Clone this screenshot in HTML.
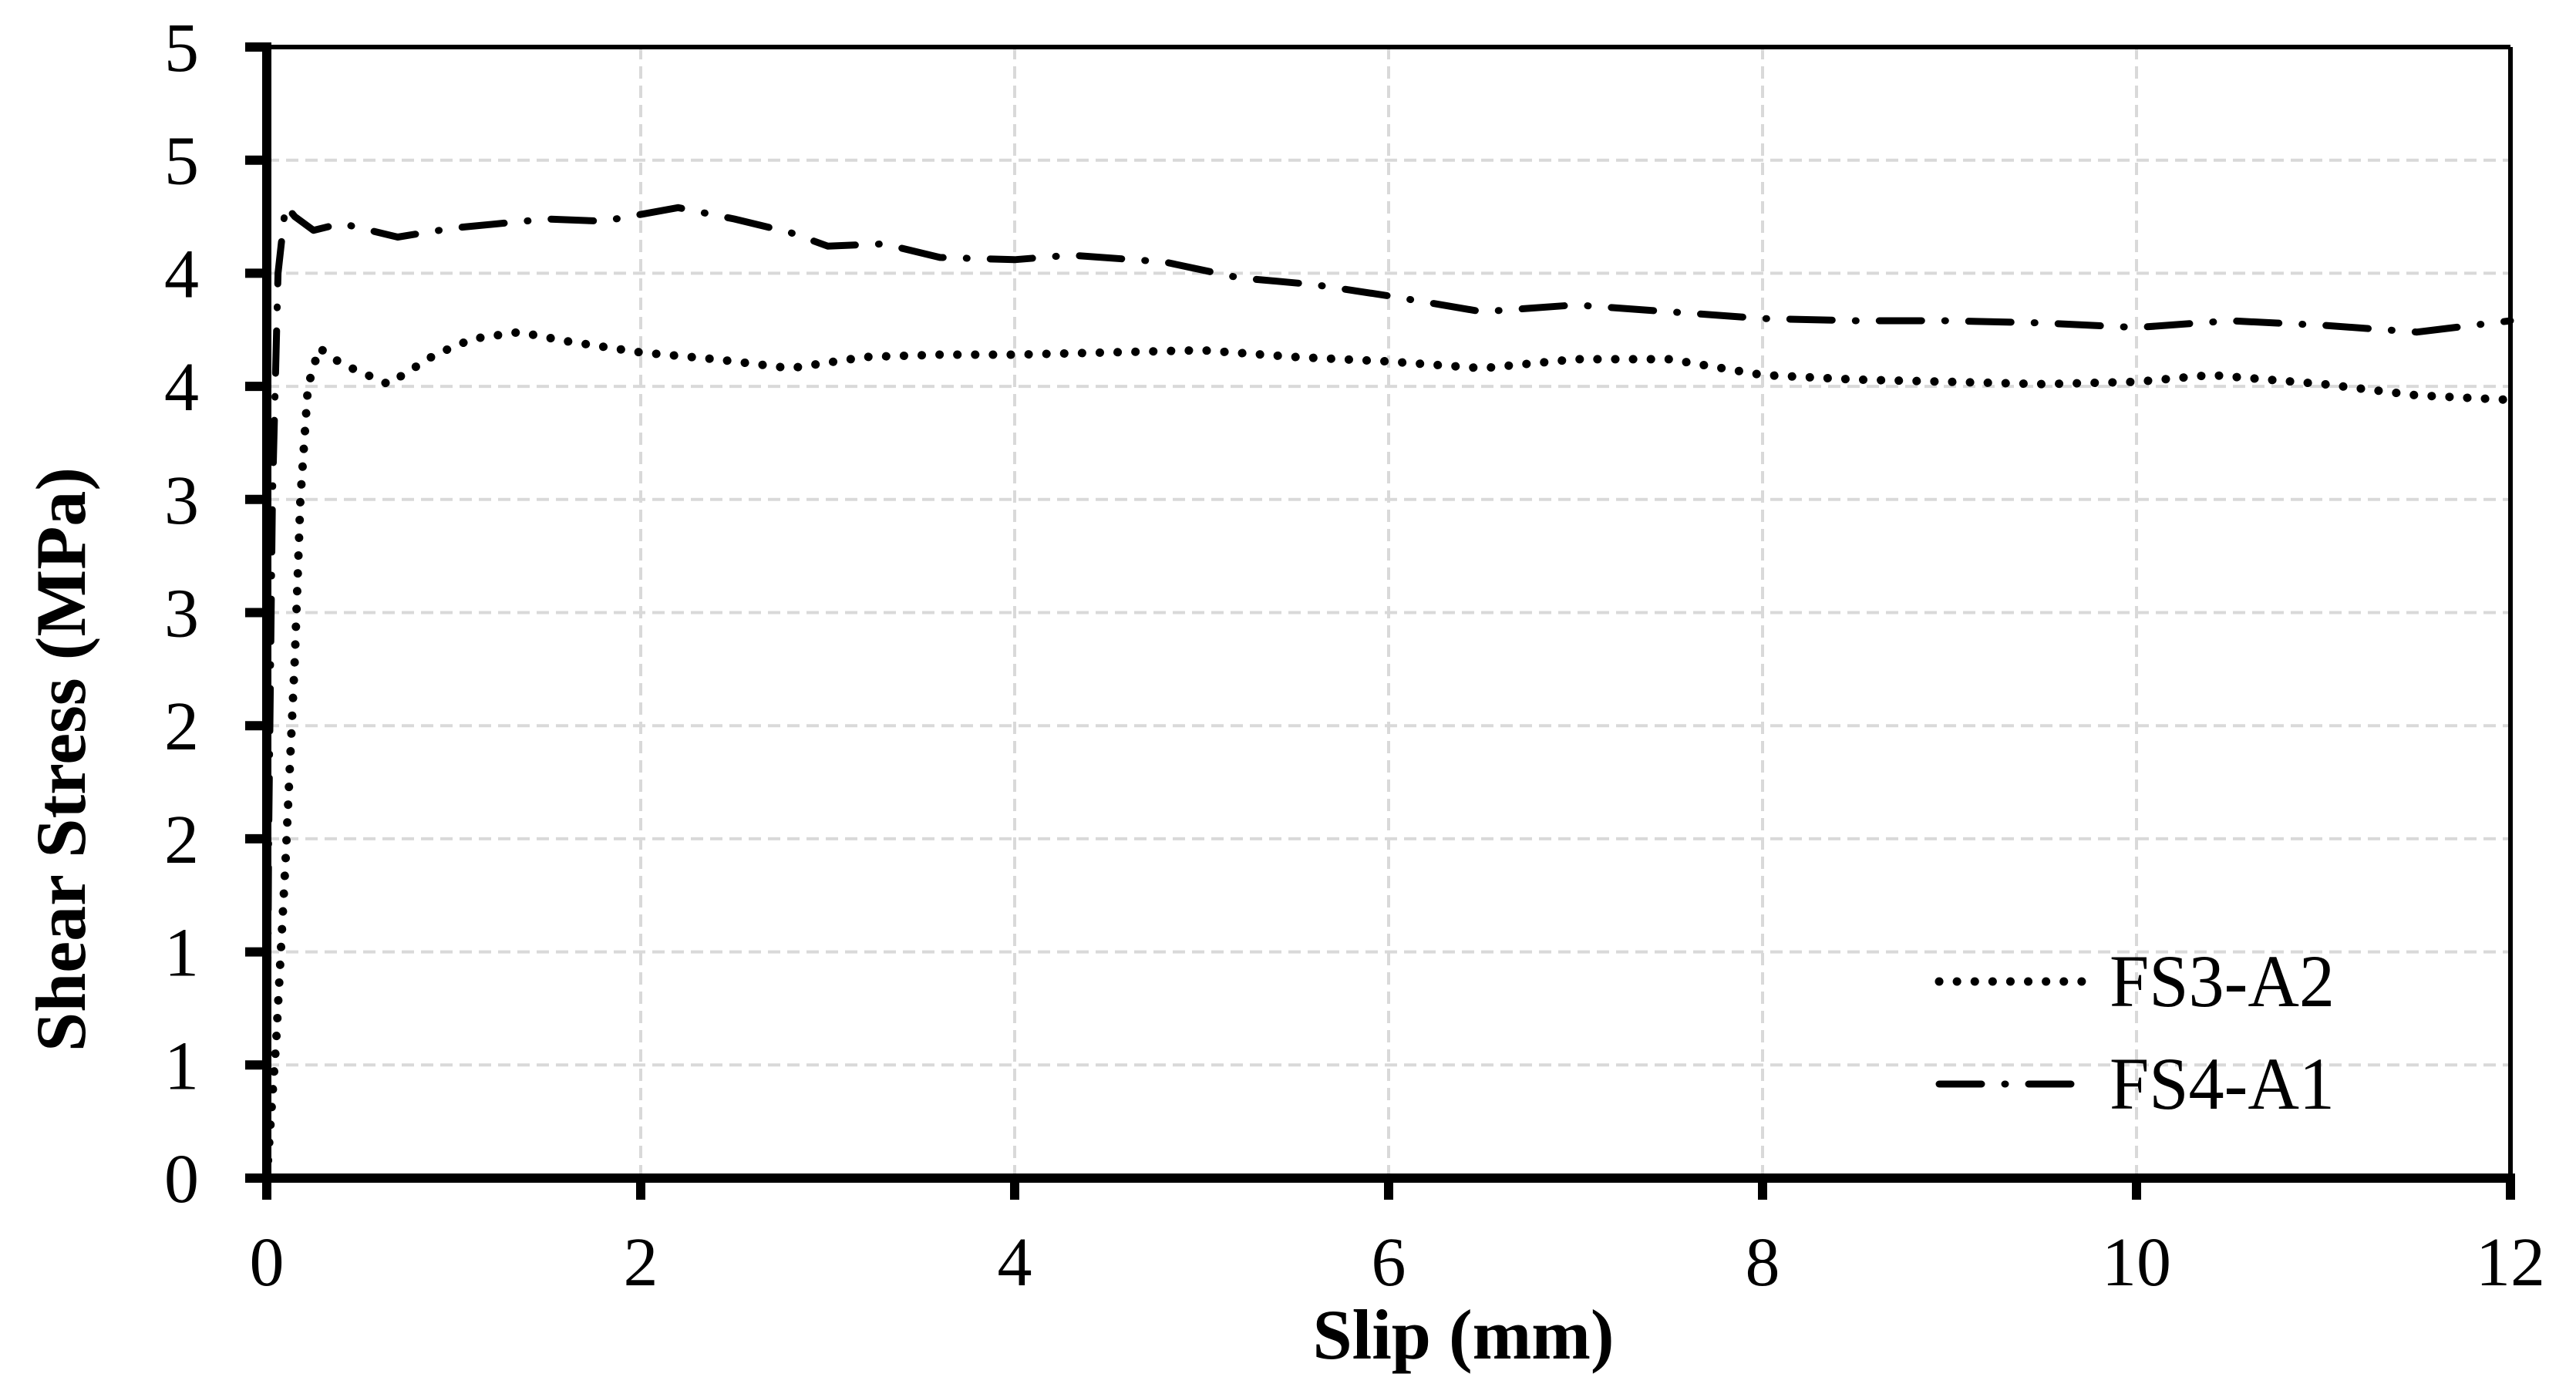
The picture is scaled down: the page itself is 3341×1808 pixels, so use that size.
<!DOCTYPE html>
<html><head><meta charset="utf-8"><style>
html,body{margin:0;padding:0;background:#fff;}
svg{display:block;}
text{font-family:"Liberation Serif",serif;fill:#000;}
</style></head><body>
<svg id="chart" width="3341" height="1808" viewBox="0 0 3341 1808" xmlns="http://www.w3.org/2000/svg">
<g id="grid"></g>
<g id="series"></g>
<g id="axes"></g>
<g id="legend"></g>
<text x="1898" y="1762" text-anchor="middle" font-size="92" font-weight="bold">Slip (mm)</text>
<text transform="translate(110,985) rotate(-90)" text-anchor="middle" font-size="92" font-weight="bold">Shear Stress (MPa)</text>
</svg>
<script>
const xTicks=[0,2,4,6,8,10,12];
const yTicks=[0,0.5,1,1.5,2,2.5,3,3.5,4,4.5,5];
const yTickLabels=["0","1","1","2","2","3","3","4","4","5","5"];
const seriesNames=["FS3-A2","FS4-A1"];
const fs3X=[0,0.05,0.1,0.15,0.18,0.22,0.28,0.4,0.65,0.9,1.1,1.35,1.6,2.0,2.4,2.8,3.2,3.6,4.0,4.5,5.0,5.5,6.0,6.5,7.0,7.5,8.0,8.5,9.0,9.5,10.0,10.4,11.0,11.5,12.0];
const fs3Y=[0,0.6,1.4,2.3,3.0,3.5,3.67,3.6,3.51,3.64,3.71,3.74,3.70,3.65,3.62,3.58,3.63,3.64,3.64,3.65,3.66,3.63,3.61,3.58,3.62,3.62,3.55,3.53,3.52,3.51,3.52,3.55,3.51,3.46,3.44];
const fs4X=[0,0.01,0.03,0.06,0.1,0.15,0.25,0.4,0.7,1.0,1.5,1.8,2.2,2.5,2.8,3.0,3.3,3.6,4.0,4.3,4.8,5.2,5.6,6.0,6.5,7.0,7.5,8.0,8.5,9.0,9.5,10.0,10.5,11.0,11.5,12.0];
const fs4Y=[0,1.5,3.0,4.0,4.3,4.25,4.19,4.22,4.16,4.2,4.24,4.23,4.29,4.24,4.18,4.12,4.13,4.07,4.06,4.08,4.05,3.98,3.95,3.9,3.83,3.86,3.83,3.8,3.79,3.79,3.78,3.76,3.79,3.77,3.74,3.79];

const NS="http://www.w3.org/2000/svg";
const L=346,R=3256,T=61,B=1528;
const sx=v=>L+(v-0)/(12-0)*(R-L);
const sy=v=>B-(v-0)/(5-0)*(B-T);
function mk(tag,attrs,parent){const e=document.createElementNS(NS,tag);for(const k in attrs)e.setAttribute(k,attrs[k]);parent.appendChild(e);return e;}
const grid=document.getElementById('grid'),axes=document.getElementById('axes'),ser=document.getElementById('series'),leg=document.getElementById('legend');

yTicks.forEach((v,i)=>{
  if(v>0&&v<5){const g=mk('line',{x1:L,x2:R,y1:sy(v),y2:sy(v),stroke:'#d9d9d9','stroke-width':4,'stroke-dasharray':'16 9'},grid);
  
  }
  const t=mk('line',{x1:L-28,x2:L,y1:sy(v),y2:sy(v),stroke:'#000','stroke-width':12},axes);
  
  
  const lb=mk('text',{x:258,y:sy(v)+31,'text-anchor':'end','font-size':90},axes);
  lb.textContent=yTickLabels[i];
  
  
});
xTicks.forEach(v=>{
  if(v>0&&v<12){const g=mk('line',{x1:sx(v),x2:sx(v),y1:T,y2:B,stroke:'#d9d9d9','stroke-width':4,'stroke-dasharray':'16 9'},grid);
  
  }
  const t=mk('line',{x1:sx(v),x2:sx(v),y1:B,y2:B+28,stroke:'#000','stroke-width':12},axes);
  
  
  const lb=mk('text',{x:sx(v),y:1667,'text-anchor':'middle','font-size':90},axes);
  lb.textContent=String(v);
  
  
});
const topFrame=mk('line',{x1:L,x2:R,y1:T,y2:T,stroke:'#000','stroke-width':6},axes);


const rightFrame=mk('line',{x1:R,x2:R,y1:T,y2:B,stroke:'#000','stroke-width':6},axes);


const xAxisLine=mk('line',{x1:L-28,x2:R+6,y1:B,y2:B,stroke:'#000','stroke-width':12},axes);


const yAxisLine=mk('line',{x1:L,x2:L,y1:T-6,y2:B+28,stroke:'#000','stroke-width':12},axes);



function pts(xs,ys){return xs.map((x,i)=>sx(x).toFixed(1)+','+sy(ys[i]).toFixed(1)).join(' ');}
const dotStyle={fill:'none',stroke:'#000','stroke-width':11,'stroke-linecap':'round','stroke-dasharray':'0.1 23'};
const dashStyle={fill:'none',stroke:'#000','stroke-width':9,'stroke-linecap':'round','stroke-linejoin':'round','stroke-dasharray':'55 30 1 30'};
const p1=mk('polyline',Object.assign({points:pts(fs3X,fs3Y)},dotStyle),ser);


const p2=mk('polyline',Object.assign({points:pts(fs4X,fs4Y)},dashStyle),ser);



[[1273,dotStyle,'legend-entry-fs3-a2'],[1406,dashStyle,'legend-entry-fs4-a1']].forEach((r,i)=>{
  const g=mk('g',{},leg);
  
  
  const ln=mk('line',Object.assign({x1:2515,x2:2705,y1:r[0],y2:r[0]},r[1]),g);
  
  
  const tx=mk('text',{x:2736,y:r[0]+32,'font-size':96,textLength:292,lengthAdjust:'spacingAndGlyphs'},g);
  tx.textContent=seriesNames[i];
  
  
});
</script>
</body></html>
